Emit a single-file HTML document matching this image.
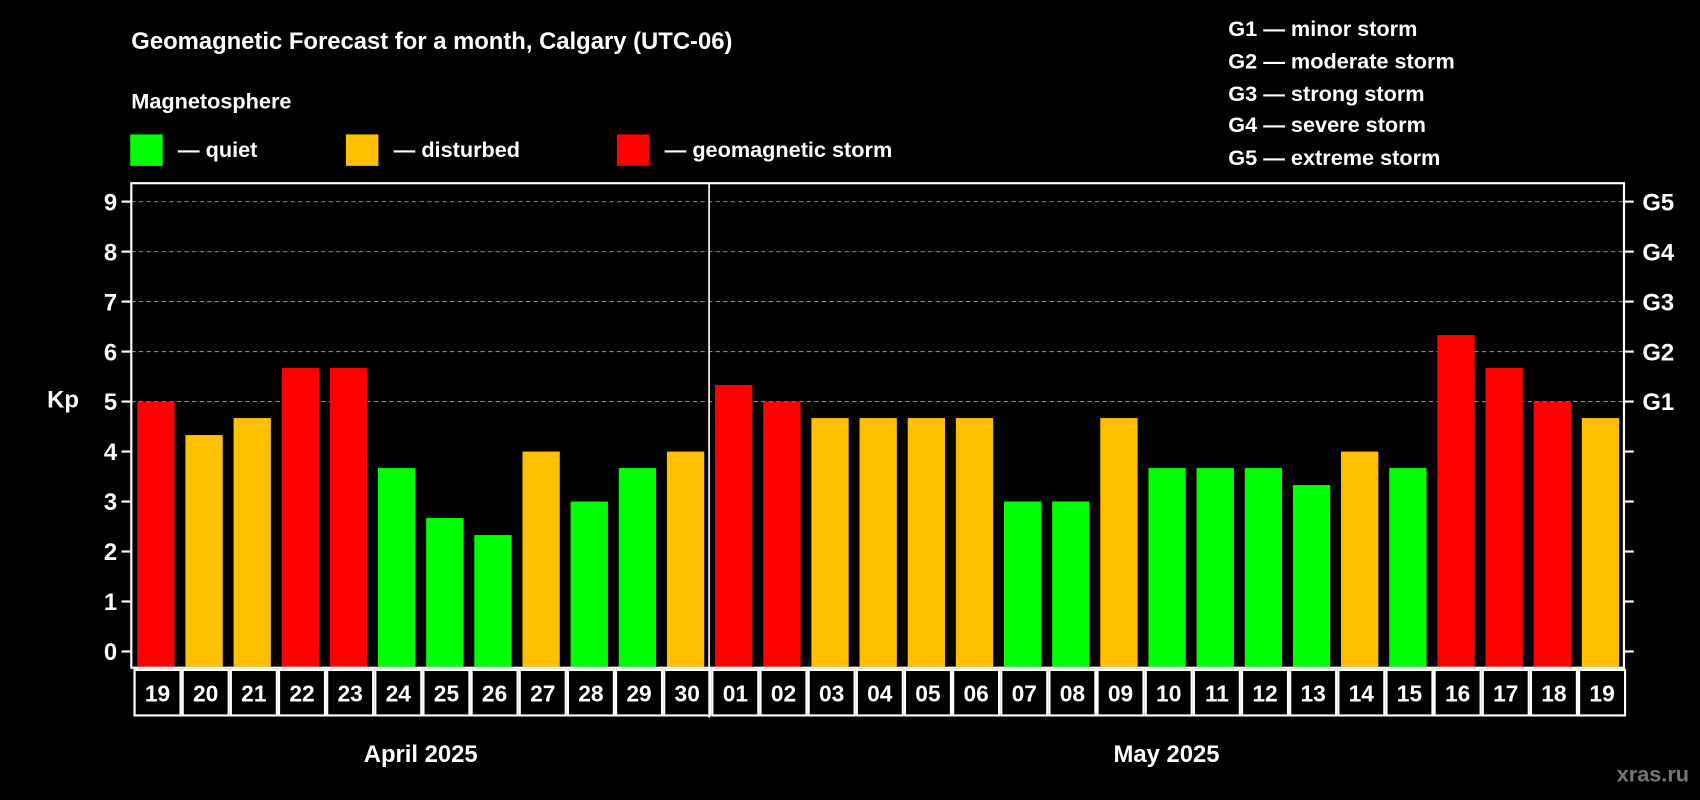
<!DOCTYPE html>
<html><head><meta charset="utf-8"><style>
html,body{margin:0;padding:0;background:#000;}
svg{display:block;}
text{font-family:"Liberation Sans",Arial,sans-serif;font-weight:bold;fill:#fff;}
</style></head><body>
<svg id="chart" width="1700" height="800" viewBox="0 0 1568 738" xmlns="http://www.w3.org/2000/svg">
<rect width="1568" height="738" fill="#000"/>
<text x="121" y="45" font-size="22">Geomagnetic Forecast for a month, Calgary (UTC-06)</text>
<text x="121" y="100" font-size="20">Magnetosphere</text>
<g><rect x="120" y="124" width="30" height="29" fill="#00ff00"/><text x="164" y="145" font-size="20">— quiet</text></g>
<g><rect x="319" y="124" width="30" height="29" fill="#ffc000"/><text x="363" y="145" font-size="20">— disturbed</text></g>
<g><rect x="569" y="124" width="30" height="29" fill="#ff0000"/><text x="613" y="145" font-size="20">— geomagnetic storm</text></g>
<g font-size="20">
<text x="1133" y="33">G1 — minor storm</text>
<text x="1133" y="63">G2 — moderate storm</text>
<text x="1133" y="93">G3 — strong storm</text>
<text x="1133" y="122">G4 — severe storm</text>
<text x="1133" y="152">G5 — extreme storm</text>
</g>
<text x="58" y="376" font-size="22" text-anchor="middle">Kp</text>
<g id="grid"></g><g id="bars"></g><g id="axes"></g>
<text x="388" y="703" font-size="22" text-anchor="middle">April 2025</text>
<text x="1076" y="703" font-size="22" text-anchor="middle">May 2025</text>
<text x="1558" y="721" font-size="20" text-anchor="end" style="fill:#777">xras.ru</text>
</svg>
<script>
const days = ["19","20","21","22","23","24","25","26","27","28","29","30","01","02","03","04","05","06","07","08","09","10","11","12","13","14","15","16","17","18","19"];
const kpValues = [5,4.33,4.67,5.67,5.67,3.67,2.67,2.33,4,3,3.67,4,5.33,5,4.67,4.67,4.67,4.67,3,3,4.67,3.67,3.67,3.67,3.33,4,3.67,6.33,5.67,5,4.67];
const yTicks = [0,1,2,3,4,5,6,7,8,9];
const gLabels = ["G1","G2","G3","G4","G5"];
const aprilCount = 12;
const NS="http://www.w3.org/2000/svg";
const L=121,R=1498,T=169,B=616,Y0=601,Y9=186;
const slot=(R-L)/days.length;
const yS=v=>Y0-(Y0-Y9)*v/9;
const xS=i=>L+i*slot;
function mk(tag,attrs,parent){const e=document.createElementNS(NS,tag);for(const k in attrs)e.setAttribute(k,attrs[k]);parent.appendChild(e);return e;}
const grid=document.getElementById('grid'),bars=document.getElementById('bars'),axes=document.getElementById('axes');
yTicks.forEach(t=>{
  const y=yS(t);
  if(t>=5){const g=mk('line',{x1:L,x2:R,y1:y,y2:y,stroke:'#888','stroke-dasharray':'4 3','stroke-width':1},grid);
    
    }
  const tl=mk('line',{x1:L-9,x2:L,y1:y,y2:y,stroke:'#fff','stroke-width':2},axes);
  
  
  const tr=mk('line',{x1:R,x2:R+9,y1:y,y2:y,stroke:'#fff','stroke-width':2},axes);
  
  
  const lb=mk('text',{x:L-13,y:y+8,'font-size':22,'text-anchor':'end'},axes);lb.textContent=t;
  
  
});
gLabels.forEach((g,i)=>{
  const lb=mk('text',{x:R+17,y:yS(5+i)+8,'font-size':22},axes);lb.textContent=g;
  
  
});
kpValues.forEach((v,i)=>{
  const col=v>=5?'#ff0000':(v>=4?'#ffc000':'#00ff00');
  const r=mk('rect',{x:xS(i)+5.5,y:yS(v),width:slot-10,height:B-1-yS(v),fill:col},bars);
  
  
  const bx=mk('rect',{x:xS(i)+3,y:B+2,width:slot-2,height:42,fill:'none',stroke:'#fff','stroke-width':2},axes);
  
  
  const tx=mk('text',{x:xS(i)+slot/2+2,y:B+31,'font-size':21,'text-anchor':'middle'},axes);tx.textContent=days[i];
  
  
});
const fr=mk('rect',{x:L,y:T,width:R-L,height:B-T,fill:'none',stroke:'#fff','stroke-width':2},axes);


const dv=mk('line',{x1:xS(aprilCount),x2:xS(aprilCount),y1:T,y2:B+46,stroke:'#fff','stroke-width':1.5},axes);


</script>
</body></html>
